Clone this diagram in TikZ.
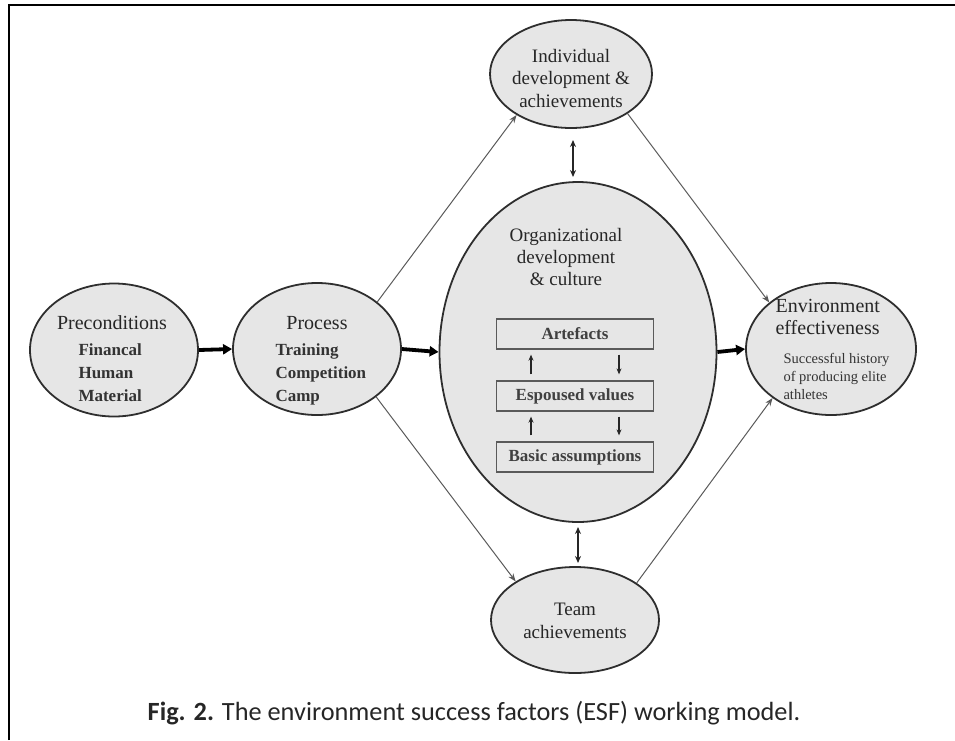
\documentclass[tikz,border=0pt]{standalone}
\usepackage{fontspec}
\setmainfont{Liberation Serif}
\newfontfamily\capfont{Carlito}
\usetikzlibrary{shapes.geometric,arrows.meta}
\definecolor{ovalfill}{HTML}{E6E6E6}
\definecolor{ovaldraw}{HTML}{2E2E2E}
\definecolor{thinline}{HTML}{5A5A5A}
\tikzset{
  oval/.style={ellipse, draw=ovaldraw, line width=1.8pt, fill=ovalfill, inner sep=0pt},
  layerbox/.style={rectangle, draw=thinline, line width=1.3pt, fill=ovalfill, minimum width=157pt, minimum height=30pt, inner sep=0pt, font=\fontsize{17}{20}\selectfont\bfseries, text=black!75},
  thick arrow/.style={-{Triangle[length=9pt,width=10pt]}, line width=3.8pt, black},
  thin arrow/.style={-{Stealth[length=8pt,width=6pt]}, line width=1pt, thinline},
  dbl arrow/.style={{Stealth[length=7pt,width=6pt]}-{Stealth[length=7pt,width=6pt]}, line width=2.2pt, black!85},
  small arrow/.style={-{Stealth[length=6pt,width=5pt]}, line width=2.2pt, black!85},
  title/.style={font=\fontsize{20}{23}\selectfont, text=black!85},
  items/.style={font=\fontsize{17}{23}\selectfont\bfseries, text=black!80, align=left},
}
\begin{document}
\begin{tikzpicture}[x=1pt,y=-1pt]
\useasboundingbox (0,0) rectangle (955,740);
% frame
\draw[line width=2pt, black] (9,740) -- (9,5) -- (955,5);
% ellipses
\node[oval, minimum width=168pt, minimum height=133pt] (pre) at (114,350) {};
\node[oval, minimum width=168pt, minimum height=132pt] (proc) at (317,349) {};
\node[oval, minimum width=277pt, minimum height=340pt] (org) at (578,352) {};
\node[oval, minimum width=162pt, minimum height=108pt] (indiv) at (571,74) {};
\node[oval, minimum width=168pt, minimum height=106pt] (team) at (575,620) {};
\node[oval, minimum width=170pt, minimum height=132pt] (env) at (831,349) {};
% texts
\node[title] (pret) at (112,323) {Preconditions};
\node[items, anchor=north west] (prei) at (75,340) {Financal\\Human\\Material};
\node[title] (proct) at (317,323) {Process};
\node[items, anchor=north west] (proci) at (272,340) {Training\\Competition\\Camp};
\node[title, align=center, font=\fontsize{19}{22.5}\selectfont] (indivt) at (571,78) {Individual\\development \&\\achievements};
\node[title, align=center, font=\fontsize{19}{22.5}\selectfont] (teamt) at (575,621) {Team\\achievements};
\node[title, align=center, font=\fontsize{19}{22}\selectfont] (orgt) at (566,257) {Organizational\\development\\\& culture};
\node[title, align=left, anchor=north west, font=\fontsize{20}{22}\selectfont] (envt) at (772,296) {Environment\\effectiveness};
\node[align=left, anchor=north west, font=\fontsize{14.5}{18}\selectfont, text=black!80] (envi) at (780,350) {Successful history\\of producing elite\\athletes};
% layer boxes
\node[layerbox] (art) at (575,334) {Artefacts};
\node[layerbox] (esp) at (575,396) {Espoused values};
\node[layerbox] (bas) at (575,457) {Basic assumptions};
\draw[small arrow, shorten <=6pt, shorten >=5pt] ([xshift=-44pt]esp.north) -- ([xshift=-44pt]art.south);
\draw[small arrow, shorten <=5pt, shorten >=6pt] ([xshift=44pt]art.south) -- ([xshift=44pt]esp.north);
\draw[small arrow, shorten <=6pt, shorten >=5pt] ([xshift=-44pt]bas.north) -- ([xshift=-44pt]esp.south);
\draw[small arrow, shorten <=5pt, shorten >=6pt] ([xshift=44pt]esp.south) -- ([xshift=44pt]bas.north);
% thick arrows
\draw[thick arrow] (pre.east) -- (proc.west);
\draw[thick arrow] (proc.east) -- (org.west);
\draw[thick arrow] (org.east) -- (env.west);
% thin arrows
\draw[thin arrow] (proc.38) -- (indiv.217);
\draw[thin arrow] (indiv.-35) -- (env.143);
\draw[thin arrow] (proc.-39) -- (team.147);
\draw[thin arrow] (team.31) -- (env.220);
% double arrows
\coordinate (d1a) at (573,140);
\coordinate (d1b) at (573,177);
\coordinate (d2a) at (578,527);
\coordinate (d2b) at (578,563);
\draw[dbl arrow] (d1a) -- (d1b);
\draw[dbl arrow] (d2a) -- (d2b);
% caption
\node[font=\capfont\fontsize{26.3}{29}\selectfont, text=black!85] (cap) at (474,713) {\textbf{Fig. 2.} The environment success factors (ESF) working model.};
\end{tikzpicture}
\end{document}
